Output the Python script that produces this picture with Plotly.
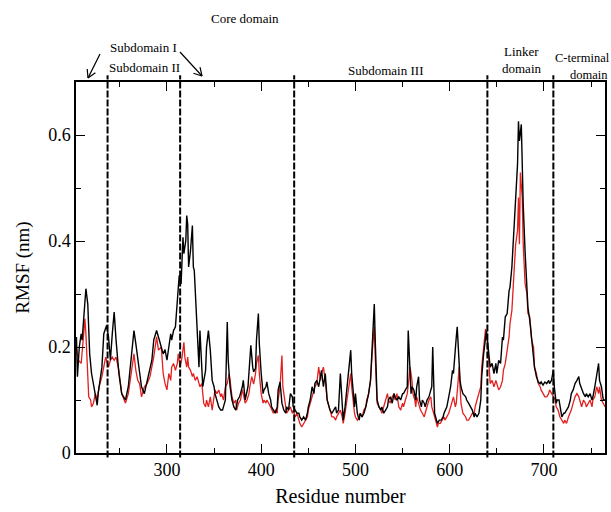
import plotly.graph_objects as go

# ---------------- data ----------------
black_res = [204,205,207,209,210,211,213,214,216,217,218,220,223,226,227,231,233,236,238,240,242,244,246,249,252,256,259,263,265,267,269,271,273,276,279,282,284,286,289,291,294,296,298,300,302,304,305,307,309,311,312,313,315,316,317,318,320,321,322,323,325,327,328,329,331,332,334,335,337,338,341,342,344,346,348,350,351,353,355,357,359,362,364,365,367,369,371,373,375,377,380,381,383,386,388,389,391,392,394,395,397,398,400,402,403,405,406,408,410,411,413,415,417,418,420,421,422,424,426,427,429,431,433,434,436,438,440,441,443,445,447,449,450,452,454,456,457,459,461,463,464,466,468,470,472,473,475,477,479,480,482,484,486,487,489,491,493,495,496,498,499,500,502,504,505,507,509,511,512,514,516,518,519,520,521,522,523,525,527,528,530,532,534,535,537,539,541,542,544,546,548,550,551,553,555,556,558,559,560,562,564,565,567,568,570,571,573,574,576,578,580,581,582,583,584,586,587,589,591,593,594,597,598,599,601,603,604,605,607,608,609,610,611,612,614,617,618,620,622,624,626,627,629,631,633,634,636,638,639,640,642,643,645,647,649,650,652,654,656,657,659,661,663,664,666,668,670,672,673,674,676,678,680,682,683,685,687,689,690,692,694,696,697,699,701,703,705,706,708,710,711,713,714,716,718,719,721,722,724,726,728,729,731,733,735,737,738,740,742,744,745,747,749,751,752,754,756,758,759,761,763,765]
black_val = [0.219,0.144,0.200,0.225,0.213,0.238,0.288,0.310,0.281,0.238,0.187,0.150,0.119,0.090,0.112,0.162,0.225,0.241,0.219,0.175,0.225,0.266,0.213,0.150,0.112,0.100,0.125,0.194,0.231,0.206,0.181,0.150,0.125,0.112,0.137,0.162,0.175,0.213,0.231,0.219,0.200,0.187,0.195,0.175,0.200,0.225,0.213,0.231,0.238,0.288,0.313,0.335,0.319,0.376,0.407,0.376,0.401,0.448,0.432,0.351,0.382,0.429,0.351,0.344,0.269,0.225,0.162,0.231,0.150,0.125,0.156,0.200,0.231,0.194,0.137,0.125,0.112,0.100,0.087,0.081,0.081,0.100,0.247,0.175,0.125,0.100,0.087,0.081,0.100,0.106,0.125,0.137,0.100,0.125,0.194,0.203,0.162,0.153,0.160,0.213,0.263,0.206,0.150,0.112,0.119,0.125,0.134,0.112,0.100,0.087,0.081,0.075,0.087,0.119,0.134,0.112,0.094,0.081,0.075,0.087,0.081,0.112,0.106,0.087,0.081,0.075,0.075,0.068,0.062,0.068,0.062,0.075,0.087,0.100,0.125,0.112,0.131,0.137,0.125,0.150,0.156,0.125,0.150,0.100,0.087,0.081,0.075,0.081,0.087,0.075,0.081,0.150,0.075,0.062,0.087,0.125,0.150,0.194,0.150,0.100,0.087,0.112,0.075,0.062,0.075,0.068,0.075,0.087,0.094,0.112,0.137,0.206,0.238,0.281,0.213,0.125,0.100,0.087,0.081,0.087,0.075,0.081,0.087,0.100,0.106,0.094,0.112,0.106,0.100,0.106,0.100,0.112,0.112,0.119,0.125,0.231,0.150,0.112,0.125,0.119,0.100,0.125,0.144,0.100,0.087,0.100,0.094,0.087,0.100,0.106,0.119,0.125,0.200,0.112,0.075,0.062,0.056,0.062,0.062,0.068,0.075,0.087,0.100,0.106,0.125,0.156,0.150,0.181,0.219,0.238,0.206,0.162,0.137,0.125,0.112,0.106,0.100,0.094,0.087,0.081,0.068,0.075,0.068,0.075,0.100,0.144,0.187,0.225,0.231,0.213,0.175,0.162,0.169,0.150,0.169,0.150,0.175,0.169,0.219,0.213,0.257,0.263,0.306,0.313,0.351,0.413,0.476,0.545,0.626,0.589,0.620,0.470,0.380,0.319,0.275,0.250,0.213,0.187,0.162,0.144,0.134,0.131,0.134,0.128,0.134,0.131,0.137,0.131,0.137,0.156,0.125,0.094,0.100,0.100,0.075,0.068,0.075,0.075,0.081,0.087,0.100,0.112,0.119,0.131,0.137,0.144,0.131,0.119,0.112,0.106,0.112,0.106,0.112,0.100,0.106,0.125,0.150,0.169,0.137,0.125,0.100,0.100]

red_res = [204,206,209,211,213,214,216,217,219,220,222,224,226,228,231,233,235,238,240,242,244,246,249,252,256,259,263,265,267,269,271,273,276,279,282,284,286,289,291,294,296,298,300,302,304,305,307,309,311,312,314,316,318,319,321,322,323,325,327,328,330,332,334,335,337,339,341,342,344,346,348,350,351,353,355,357,358,360,362,364,366,367,369,371,373,374,376,378,380,381,383,385,387,388,390,392,394,395,397,398,400,402,403,405,406,408,410,411,413,415,417,418,420,422,423,425,426,427,429,431,433,434,436,438,440,441,443,445,447,449,450,452,454,456,457,459,461,463,464,466,468,470,472,473,475,477,479,480,482,484,486,487,489,491,493,495,496,498,499,500,502,504,505,507,509,511,512,514,516,518,520,521,522,523,525,527,528,530,532,534,535,537,539,541,542,544,546,548,550,551,553,555,557,558,560,561,563,564,565,567,569,571,573,574,576,578,580,581,583,585,587,588,590,592,594,595,597,599,601,603,604,606,607,609,610,611,612,614,617,618,620,622,624,626,627,629,631,633,634,636,638,640,641,643,645,647,649,650,652,654,656,657,659,661,663,664,666,668,670,672,673,674,675,677,678,680,682,683,685,687,689,690,692,694,696,697,699,701,703,705,706,708,710,712,713,715,717,719,721,722,724,726,728,729,731,733,735,737,738,740,742,744,745,747,749,751,752,754,756,758,759,761,763,765]
red_val = [0.200,0.175,0.169,0.213,0.253,0.225,0.162,0.106,0.100,0.087,0.094,0.112,0.100,0.125,0.144,0.162,0.181,0.162,0.175,0.181,0.175,0.181,0.156,0.112,0.094,0.112,0.162,0.187,0.156,0.137,0.131,0.106,0.125,0.131,0.144,0.162,0.181,0.219,0.194,0.200,0.150,0.131,0.119,0.150,0.137,0.162,0.169,0.156,0.169,0.187,0.162,0.181,0.209,0.181,0.162,0.181,0.162,0.156,0.144,0.150,0.137,0.144,0.131,0.125,0.131,0.094,0.087,0.100,0.087,0.106,0.081,0.112,0.119,0.112,0.119,0.106,0.112,0.100,0.125,0.131,0.150,0.137,0.106,0.094,0.100,0.081,0.094,0.100,0.119,0.112,0.094,0.100,0.112,0.125,0.144,0.130,0.150,0.169,0.184,0.150,0.112,0.094,0.100,0.094,0.100,0.094,0.087,0.081,0.075,0.081,0.075,0.100,0.125,0.184,0.125,0.100,0.087,0.075,0.081,0.087,0.075,0.081,0.068,0.075,0.062,0.056,0.049,0.056,0.062,0.068,0.081,0.094,0.106,0.119,0.125,0.131,0.162,0.137,0.150,0.162,0.137,0.100,0.087,0.081,0.068,0.068,0.062,0.068,0.075,0.081,0.068,0.056,0.075,0.100,0.125,0.150,0.125,0.087,0.075,0.068,0.062,0.068,0.075,0.068,0.081,0.087,0.100,0.112,0.137,0.194,0.238,0.181,0.112,0.094,0.087,0.081,0.075,0.087,0.100,0.112,0.100,0.094,0.106,0.112,0.100,0.112,0.087,0.081,0.094,0.087,0.100,0.112,0.144,0.162,0.137,0.112,0.100,0.087,0.106,0.094,0.081,0.075,0.068,0.075,0.087,0.100,0.106,0.087,0.075,0.059,0.049,0.056,0.056,0.062,0.068,0.062,0.068,0.075,0.087,0.100,0.106,0.087,0.094,0.137,0.162,0.125,0.094,0.075,0.068,0.062,0.062,0.068,0.075,0.075,0.087,0.100,0.112,0.125,0.162,0.194,0.234,0.213,0.187,0.131,0.137,0.125,0.137,0.131,0.119,0.125,0.137,0.156,0.169,0.194,0.219,0.244,0.269,0.332,0.394,0.420,0.482,0.394,0.529,0.482,0.395,0.320,0.300,0.263,0.257,0.213,0.200,0.162,0.150,0.131,0.125,0.119,0.112,0.106,0.106,0.112,0.119,0.112,0.106,0.100,0.087,0.081,0.068,0.062,0.056,0.062,0.056,0.068,0.075,0.081,0.094,0.106,0.112,0.106,0.100,0.087,0.100,0.094,0.087,0.094,0.100,0.087,0.100,0.106,0.125,0.112,0.125,0.100,0.094,0.087]

domain_bounds = [237, 314, 435, 640, 710]
x_ticks = [300, 400, 500, 600, 700]
y_ticks = [0, 0.2, 0.4, 0.6]
y_tick_text = ["0", "0.2", "0.4", "0.6"]

# ---------------- layout geometry (pixels) ----------------
W, H = 611, 512
L, R, T, B = 76, 6, 82, 59
PW, PH = W - L - R, H - T - B


def px(x):
    return (x - L) / PW


def py(y):
    return (H - B - y) / PH


FONT = "Liberation Serif"

fig = go.Figure()
fig.add_trace(go.Scatter(x=red_res, y=red_val, mode="lines",
                         line=dict(color="#e3201f", width=1.3), showlegend=False))
fig.add_trace(go.Scatter(x=black_res, y=black_val, mode="lines",
                         line=dict(color="black", width=1.4), showlegend=False))

shapes = []
for b in domain_bounds:
    shapes.append(dict(type="line", xref="x", yref="paper", x0=b, x1=b, y0=-0.012, y1=1.018,
                       line=dict(color="black", width=2, dash="7px,2px"), layer="above"))


def seg(x0, y0, x1, y1):
    return dict(type="line", xref="paper", yref="paper", x0=px(x0), y0=py(y0), x1=px(x1), y1=py(y1),
                line=dict(color="black", width=1.2))


# left arrow
shapes += [seg(100, 54, 88, 78), seg(88, 78, 95.4, 72.8), seg(88, 78, 87.2, 69)]
# right arrow
shapes += [seg(180, 52, 202, 76), seg(202, 76, 200, 67.2), seg(202, 76, 193.4, 73.3)]

ann = []


def text(x, y, s, size=13, anchor="center"):
    ann.append(dict(xref="paper", yref="paper", x=px(x), y=py(y), text=s, showarrow=False,
                    xanchor=anchor, yanchor="middle", font=dict(family=FONT, size=size, color="black")))


text(245, 18, "Core domain")
text(143, 48, "Subdomain I")
text(144, 67, "Subdomain II")
text(385, 70, "Subdomain III")
text(521, 51, "Linker")
text(521, 69, "domain")
text(582, 58, "C-terminal", size=12.5)
text(589, 75, "domain", size=12.5)

axis_common = dict(showline=True, linecolor="black", linewidth=1.5, mirror="allticks",
                   ticks="inside", ticklen=9, tickwidth=1.3, tickcolor="black",
                   showgrid=False, zeroline=False, automargin=False,
                   tickfont=dict(family=FONT, size=18, color="black"))

fig.update_layout(
    width=W, height=H, margin=dict(l=L, r=R, t=T, b=B, autoexpand=False),
    paper_bgcolor="white", plot_bgcolor="white",
    shapes=shapes, annotations=ann,
    xaxis=dict(range=[203.5, 764.8], tickvals=x_ticks,
               minor=dict(dtick=50, tick0=0, ticklen=5, tickwidth=1.2, tickcolor="black", ticks="inside"),
               title=dict(text="Residue number", font=dict(family=FONT, size=20, color="black"), standoff=10),
               **axis_common),
    yaxis=dict(range=[0, 0.7], tickvals=y_ticks, ticktext=y_tick_text,
               minor=dict(dtick=0.1, tick0=0, ticklen=5, tickwidth=1.2, tickcolor="black", ticks="inside"),
               title=dict(text="RMSF (nm)", font=dict(family=FONT, size=19, color="black"), standoff=14),
               **axis_common),
)

fig.write_html("out.html", config={"displayModeBar": False})

# remove the browser's default page margin so the figure sits at the top-left corner
with open("out.html", "r", encoding="utf-8") as f:
    html = f.read()
html = html.replace("<head>", "<head><style>html,body{margin:0;padding:0;overflow:hidden;}</style>", 1)
with open("out.html", "w", encoding="utf-8") as f:
    f.write(html)
